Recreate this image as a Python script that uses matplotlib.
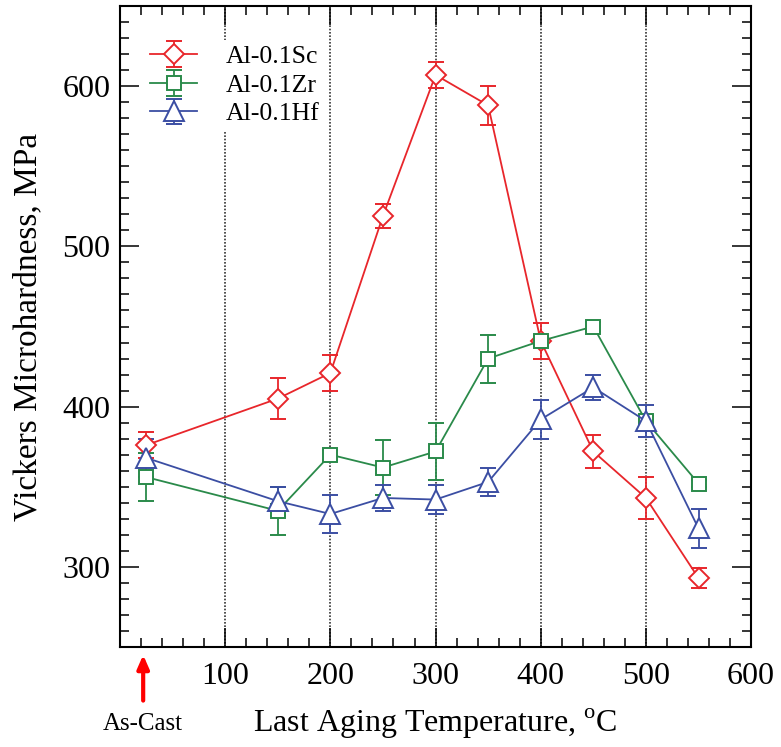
import matplotlib.pyplot as plt
from matplotlib.ticker import MultipleLocator

# data (as-cast plotted near x=25)
temps = [25, 150, 200, 250, 300, 350, 400, 450, 500, 550]

sc_hv = [376, 405, 421, 519, 607, 588, 441, 372, 343, 293]
sc_err = [8, 13, 11, 7.5, 8, 12, 11.5, 10.5, 13, 6]

zr_hv = [356, 335, 370, 362, 372, 430, 441, 450, 391, 352]
zr_err = [15, 15, 3, 17, 17.5, 15, 3, 3, 3, 2]

hf_hv = [368, 341, 333, 343, 342, 353, 392, 412, 391, 324]
hf_err = [12, 9, 12, 8, 9, 8.5, 12, 8, 10, 12]

grid_x = [100, 200, 300, 400, 500]
xticks = [100, 200, 300, 400, 500, 600]
yticks = [300, 400, 500, 600]

red = "#e8262b"
green = "#2a8a4a"
blue = "#3b4ea3"

plt.rcParams["font.family"] = ["Liberation Serif", "DejaVu Serif"]
plt.rcParams["mathtext.fontset"] = "custom"
plt.rcParams["mathtext.rm"] = "Liberation Serif"

fig = plt.figure(figsize=(7.81, 7.47), dpi=100)
ax = fig.add_axes([0.1537, 0.1339, 0.808, 0.858])

for gx in grid_x:
    ax.axvline(gx, color="#333333", linestyle=(0, (1, 1)), linewidth=1.2, zorder=1)

common = dict(linewidth=1.3, capsize=6, elinewidth=1.3, capthick=1.3,
              markerfacecolor="white", markeredgewidth=1.4, zorder=3)
ax.errorbar(temps, sc_hv, yerr=sc_err, color=red, marker="D", markersize=10,
            label="Al-0.1Sc", **common)
ax.errorbar(temps, zr_hv, yerr=zr_err, color=green, marker="s", markersize=10,
            label="Al-0.1Zr", **common)
ax.errorbar(temps, hf_hv, yerr=hf_err, color=blue, marker="^", markersize=14,
            label="Al-0.1Hf", **common)

ax.set_xlim(0, 600)
ax.set_ylim(250, 650)
ax.set_xticks(xticks)
ax.set_yticks(yticks)
ax.xaxis.set_minor_locator(MultipleLocator(20))
ax.yaxis.set_minor_locator(MultipleLocator(10))
ax.tick_params(which="both", direction="in", top=True, right=True, width=1.1)
ax.tick_params(which="major", length=14, labelsize=23)
ax.tick_params(axis="x", which="major", pad=11)
ax.tick_params(axis="y", which="major", pad=7)
ax.tick_params(which="minor", length=6.5)
for s in ax.spines.values():
    s.set_linewidth(1.5)

ax.set_xlabel("Last Aging Temperature, $^{\\mathrm{o}}$C", fontsize=23, labelpad=11)
ax.set_ylabel("Vickers Microhardness, MPa", fontsize=24, labelpad=14)

# as-cast arrow below the axis
ax.annotate("", xy=(22, -0.008), xycoords=("data", "axes fraction"),
            xytext=(22, -0.088), textcoords=("data", "axes fraction"),
            arrowprops=dict(arrowstyle="-|>,head_length=0.8,head_width=0.35",
                            color="red", linewidth=3), annotation_clip=False)
ax.text(22, -0.12, "As-Cast", transform=ax.get_xaxis_transform(),
        ha="center", va="center", fontsize=18)

leg = ax.legend(loc="upper left", bbox_to_anchor=(0.04, 0.947), frameon=True,
                fontsize=18.5, handlelength=1.8, handletextpad=1.15,
                labelspacing=0.22, borderaxespad=0.0, borderpad=0.2)
leg.get_frame().set_edgecolor("none")
leg.get_frame().set_facecolor("white")
leg.get_frame().set_alpha(1)
leg.set_zorder(2)

plt.savefig("out.png", dpi=100)
